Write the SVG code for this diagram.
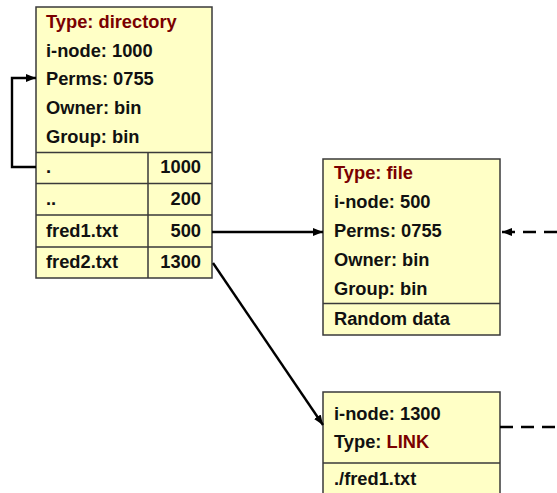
<svg xmlns="http://www.w3.org/2000/svg" width="557" height="493" viewBox="0 0 557 493">
<defs>
<style>
.box{fill:#ffffc6;stroke:#3a3a3a;stroke-width:1.5}
.div{stroke:#3a3a3a;stroke-width:1.5;fill:none}
text{font-family:"Liberation Sans",Arial,sans-serif;font-weight:bold;font-size:18.3px;fill:#111}
.red{fill:#7a0000}
.num{text-anchor:end}
.conn{stroke:#000;stroke-width:2.4;fill:none}
.dash{stroke-dasharray:13 8}
</style>
<marker id="ah" viewBox="0 0 10 8" refX="10" refY="4" markerWidth="10" markerHeight="8" markerUnits="userSpaceOnUse" orient="auto">
<path d="M0,0 L10,4 L0,8 Z" fill="#000"/>
</marker>
</defs>
<rect width="557" height="493" fill="#fff"/>
<g id="dir">
<rect class="box" x="36" y="7" width="176" height="271"/>
<path class="div" d="M36,152.5H212M36,183.5H212M36,215H212M36,247H212M148,152.5V278"/>
<text x="46" y="28" class="red">Type: directory</text>
<text x="46" y="57">i-node: 1000</text>
<text x="46" y="85">Perms: 0755</text>
<text x="46" y="114">Owner: bin</text>
<text x="46" y="143">Group: bin</text>
<text x="46" y="173">.</text>
<text x="201" y="173" class="num">1000</text>
<text x="46" y="205">..</text>
<text x="201" y="205" class="num">200</text>
<text x="46" y="237">fred1.txt</text>
<text x="201" y="237" class="num">500</text>
<text x="46" y="268">fred2.txt</text>
<text x="201" y="268" class="num">1300</text>
</g>
<g id="file">
<rect class="box" x="323" y="159" width="177" height="176"/>
<path class="div" d="M323,303.5H500"/>
<text x="334" y="179" class="red">Type: file</text>
<text x="334" y="208">i-node: 500</text>
<text x="334" y="237">Perms: 0755</text>
<text x="334" y="266">Owner: bin</text>
<text x="334" y="295">Group: bin</text>
<text x="334" y="325">Random data</text>
</g>
<g id="link">
<rect class="box" x="323" y="392" width="177" height="110"/>
<path class="div" d="M323,463H500"/>
<text x="334" y="420">i-node: 1300</text>
<text x="334" y="448">Type: <tspan class="red">LINK</tspan></text>
<text x="334" y="485">./fred1.txt</text>
</g>
<g id="connectors">
<path class="conn" d="M36,167H12V78H36" marker-end="url(#ah)"/>
<path class="conn" d="M212,232H323" marker-end="url(#ah)"/>
<path class="conn" d="M213,263L323,425" marker-end="url(#ah)"/>
<path class="conn dash" d="M557,232H502" marker-end="url(#ah)"/>
<path class="conn dash" d="M500,427H557"/>
</g>
</svg>
